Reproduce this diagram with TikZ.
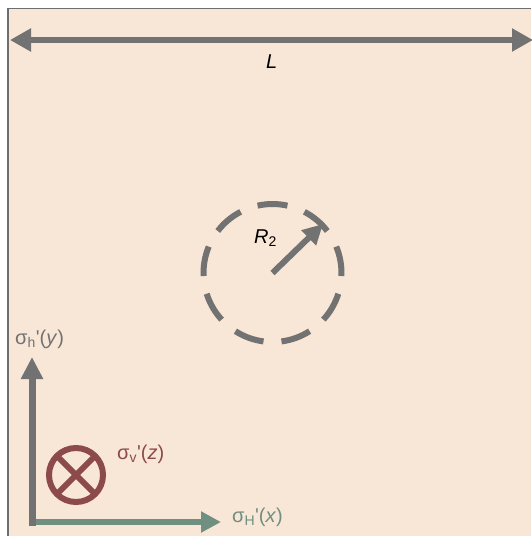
\documentclass[tikz,border=0pt]{standalone}
\usepackage{fontspec}
\newfontfamily\lab{Liberation Sans}
\usetikzlibrary{arrows.meta,calc}
\definecolor{bgpeach}{HTML}{F8E6D6}
\definecolor{framegray}{HTML}{6E6E6E}
\definecolor{axgray}{HTML}{727272}
\definecolor{axgreen}{HTML}{6F8F80}
\definecolor{axred}{HTML}{8C4A4A}
\tikzset{
  dimarrow/.style={draw=axgray, line width=6pt, {Triangle[length=21pt,width=22pt]}-{Triangle[length=21pt,width=22pt]}},
  radarrow/.style={draw=axgray, line width=6pt, -{Triangle[length=20pt,width=20pt]}},
  yaxis/.style={draw=axgray, line width=7pt, -{Triangle[length=22pt,width=21pt]}},
  xaxis/.style={draw=axgreen, line width=6pt, -{Triangle[length=20pt,width=20pt]}},
  dashring/.style={draw=axgray, line width=6pt},
  lbl/.style={inner sep=0pt, anchor=base west, font=\lab\fontsize{20}{22}\selectfont},
}
\begin{document}
\begin{tikzpicture}[x=1pt,y=-1pt]
\useasboundingbox (0,0) rectangle (531,536);
\fill[white] (0,0) rectangle (531,536);
\fill[bgpeach] (8,8) rectangle (531,536);
\draw[framegray, line width=1.5pt] (7.75,536) -- (7.75,8.25) -- (531,8.25);
% dimension L
\coordinate (Lleft) at (10,40);
\coordinate (Lright) at (533,40);
\draw[dimarrow] (Lleft) -- (Lright);
\node[lbl] (Llab) at (266,68) {\itshape L};
% dashed circle
\coordinate (C) at (272.5,273);
\foreach \a in {90,50,10,-30,-70,-110,-150,170,130}{
  \draw[dashring] ($(C)+({-\a-12.5}:69)$) arc[start angle=-\a-12.5, end angle=-\a+12.5, radius=69];
}
\coordinate (Rtip) at (323,224);
\draw[radarrow] (C) -- (Rtip);
\node[lbl] (Rlab) at (254,243) {\itshape R\textsubscript{\upshape 2}};
% axes
\coordinate (O) at (32,522);
\coordinate (Xtip) at (221,522);
\coordinate (Ytop) at (32,357);
\coordinate (Ybot) at (32,526);
\draw[xaxis] (29,522) -- (Xtip);
\draw[yaxis] (Ybot) -- (Ytop);
% otimes
\node[draw=axred, line width=6pt, circle, minimum size=54pt, inner sep=0pt] (Z) at (76,475) {};
\draw[axred, line width=6pt] ($(Z.center)+(-19.1,-19.1)$) -- ($(Z.center)+(19.1,19.1)$);
\draw[axred, line width=6pt] ($(Z.center)+(-19.1,19.1)$) -- ($(Z.center)+(19.1,-19.1)$);
% labels
\node[lbl, text=axgray] (sh) at (15,344) {σ\textsubscript{h}'(\textit{y})};
\node[lbl, text=axred] (sv) at (117,459) {σ\textsubscript{v}'(\textit{z})};
\node[lbl, text=axgreen] (sH) at (232,522) {σ\textsubscript{H}'(\textit{x})};
\end{tikzpicture}
\end{document}
